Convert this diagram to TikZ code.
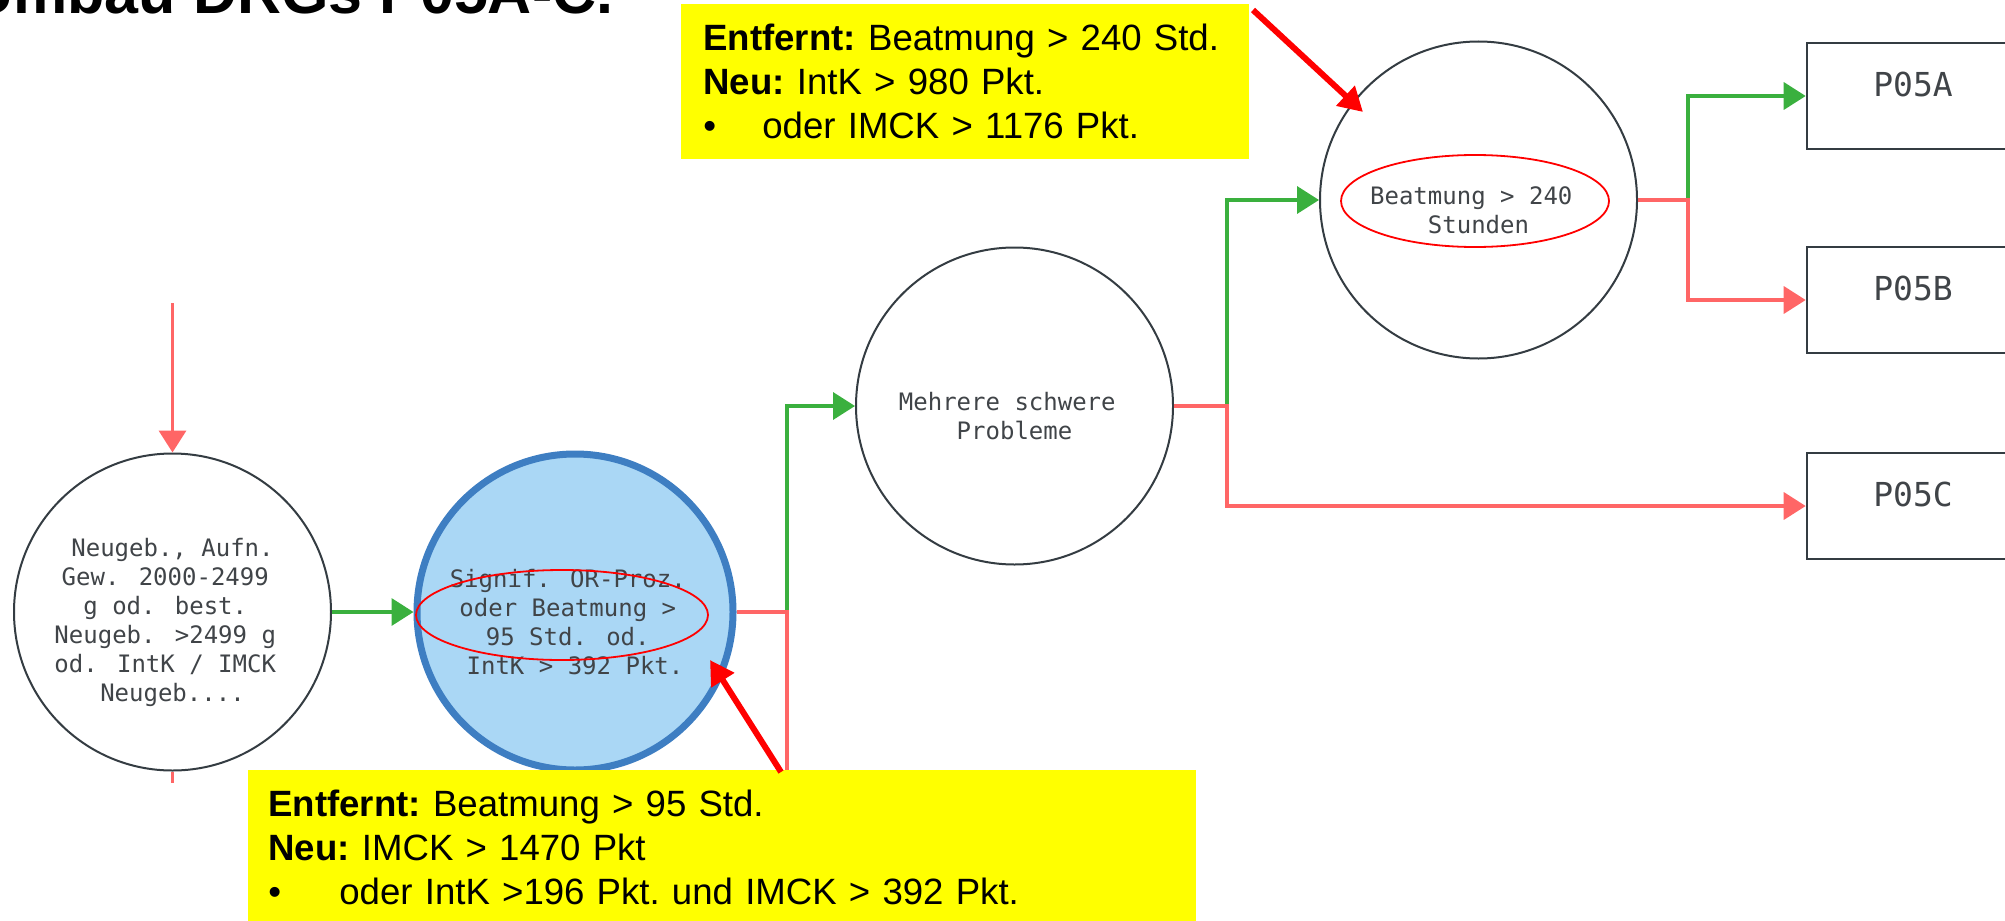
\documentclass[tikz,border=0pt]{standalone}
\usepackage{fontspec}
\setmainfont{Liberation Sans}
\newfontfamily\diagfont{DejaVu Sans Mono}
\usetikzlibrary{arrows.meta,shapes.geometric}

\definecolor{linegreen}{RGB}{58,176,62}
\definecolor{linered}{RGB}{255,102,102}
\definecolor{nodegray}{RGB}{52,60,66}
\definecolor{textgray}{RGB}{64,68,72}
\definecolor{selfill}{RGB}{170,215,245}
\definecolor{seldraw}{RGB}{62,126,194}
\definecolor{noteyellow}{RGB}{255,255,0}

% trailing blank of a wrapped line
\newcommand{\trail}{\hbox{\ }}

\tikzset{
  decitext/.style={align=center, text=textgray, yshift=-5pt,
    font=\diagfont\fontsize{12pt}{14.5pt}\selectfont},
  decision/.style={circle, draw=nodegray, line width=1pt, fill=white,
    minimum size=158.5pt, inner sep=0pt, label={[decitext]center:{#1}}},
  selected/.style={decision={#1}, draw=seldraw, fill=selfill, line width=3.5pt,
    minimum size=158pt},
  drg/.style={rectangle, draw=nodegray, line width=1.3pt, minimum width=106pt,
    minimum height=53pt, inner sep=0pt, text depth=11.5pt, text=textgray,
    font=\diagfont\fontsize{16.5pt}{19pt}\selectfont},
  yes/.style={draw=linegreen, line width=1.8pt},
  no/.style={draw=linered, line width=1.8pt},
  tip/.style={-{Triangle[length=11pt,width=13.5pt]}},
  note/.style={rectangle, fill=noteyellow, anchor=north west, inner ysep=0pt,
    align=left, font=\fontsize{18.3pt}{22pt}\selectfont\frenchspacing},
  marker/.style={ellipse, draw=red, line width=0.9pt, inner sep=0pt},
  pointer/.style={draw=red, line width=3pt, -{Triangle[length=12pt,width=13pt]}},
}

\begin{document}
\begin{tikzpicture}[x=0.5pt,y=-0.5pt]
  \useasboundingbox (0,0) rectangle (2005,920);

  \node[anchor=base west, inner sep=0pt,
    font=\bfseries\fontsize{30.5pt}{36pt}\selectfont] (T) at (-31,14) {Umbau DRGs P05A-C.};

  % decisions
  \node[decision={Neugeb., Aufn.\\Gew. 2000-2499\trail\\g od. best.\trail\\Neugeb. >2499 g\trail\\od. IntK / IMCK\trail\\Neugeb....}] (N) at (172.5,612) {};
  \node[selected={Signif. OR-Proz.\trail\\oder Beatmung >\trail\\95 Std. od.\trail\\IntK > 392 Pkt.}] (S) at (575,612) {};
  \node[decision={Mehrere schwere\trail\\Probleme}] (M) at (1014.5,406) {};
  \node[decision={Beatmung > 240\trail\\Stunden}] (B) at (1478.5,200) {};

  % results
  \node[drg] (PA) at (1913,96) {P05A};
  \node[drg] (PB) at (1913,300) {P05B};
  \node[drg] (PC) at (1913,506) {P05C};

  \coordinate (Ntop) at (172.5,303);
  \coordinate (Nbot) at (172.5,783);
  \coordinate (J1) at (787,612);
  \coordinate (J1b) at (787,775);
  \coordinate (J2) at (1227,406);
  \coordinate (J3) at (1688,200);

  \draw[no,tip] (Ntop) -- (N.north);
  \draw[no] (N.south) -- (Nbot);
  \draw[yes,tip] (N.east) -- (S.west);

  \draw[yes,tip] (J1) |- (M.west);
  \draw[no] (S.east) -- (J1) -- (J1b);

  \draw[yes,tip] (J2) |- (B.west);
  \draw[no,tip] (M.east) -- (J2) |- (PC.west);

  \draw[yes,tip] (J3) |- (PA.west);
  \draw[no,tip] (B.east) -- (J3) |- (PB.west);

  % highlights
  \node[marker, minimum width=146pt, minimum height=45pt] (E1) at (562,615) {};
  \node[marker, minimum width=134pt, minimum height=46pt] (E2) at (1475,201) {};

  % notes
  \node[note, text width=262pt, inner xsep=11pt, minimum height=77.5pt] (Y1) at (681,4)
    {\textbf{Entfernt:} Beatmung > 240 Std.\\
     \textbf{Neu:} IntK > 980 Pkt.\\
     \makebox[29.5pt][l]{\textbullet}oder IMCK > 1176 Pkt.};
  \node[note, text width=454pt, inner xsep=10pt, minimum height=77pt] (Y2) at (248,770)
    {\textbf{Entfernt:} Beatmung > 95 Std.\\
     \textbf{Neu:} IMCK > 1470 Pkt\\
     \makebox[35.5pt][l]{\textbullet}oder IntK >196 Pkt. und IMCK > 392 Pkt.};

  \coordinate (P1) at (1253,10);
  \coordinate (Q1) at (1363,112);
  \coordinate (P2) at (781,772);
  \coordinate (Q2) at (710,660);
  \draw[pointer] (P1) -- (Q1);
  \draw[pointer] (P2) -- (Q2);
\end{tikzpicture}
\end{document}
